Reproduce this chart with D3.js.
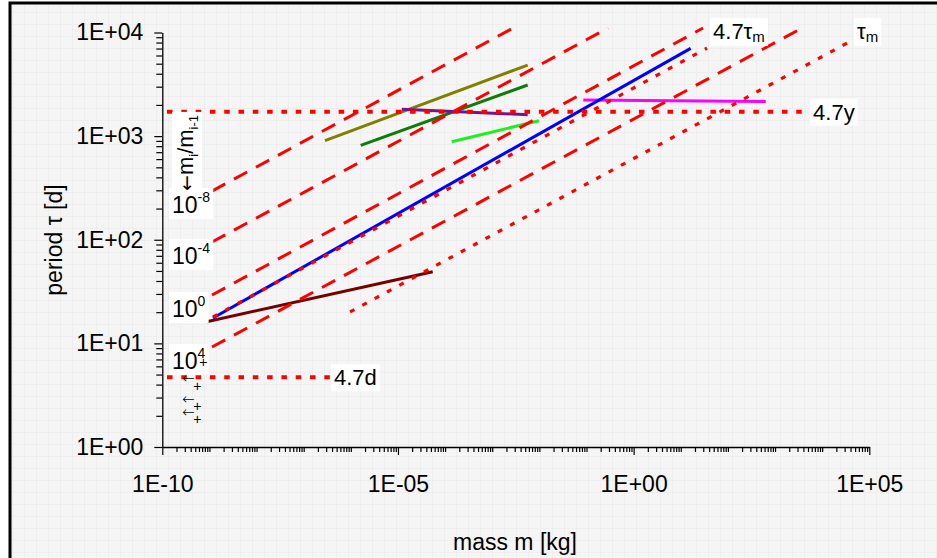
<!DOCTYPE html>
<html>
<head>
<meta charset="utf-8">
<script src="https://cdn.jsdelivr.net/npm/d3@7/dist/d3.min.js"></script>
<style>
	body {margin: 0; background: #fff;}
	svg {display: block;}
	text {font-family: "Liberation Sans", Arial, sans-serif; fill: #000;}
</style>
</head>
<body>
<svg id="chart" width="937" height="558"></svg>
<script>
//axis ticks that carry a label
const xTickValues = [1e-10, 1e-5, 1e0, 1e5];
const yTickValues = [1e0, 1e1, 1e2, 1e3, 1e4];

//long dashed lines, one per mass ratio m_i/m_{i-1}
const ratioExponents = ['-8', '-4', '0', '4'];
const ratioLines = [
	[[1.135e-9, 295], [2.76e-3, 11040]],
	[[1.135e-9, 95.1], [0.286, 11040]],
	[[1.135e-9, 29.3], [29.7, 11040]],
	[[1.135e-9, 9.23], [3740, 11040]]
];

//dotted lines: 4.7 tau_m, tau_m, 4.7 years, 4.7 days
const tau47Line = [[1.19e-9, 17.97], [36.1, 7080]];
const tauLine = [[9.62e-7, 20.1], [3.72e4, 8090]];
const yearLine = [[1.26e-10, 1717], [4340, 1717]];
const dayLine = [[1.26e-10, 4.7], [3.61e-7, 4.7]];

//measured series [mass kg, period d]
const seriesNames = ['olive', 'green', 'purple', 'lime', 'magenta', 'maroon', 'blue'];
const seriesValues = [
	[[2.83e-7, 904], [5.66e-3, 4853]],
	[[1.62e-6, 815], [5.66e-3, 3112]],
	[[1.20e-5, 1816], [5.66e-3, 1611]],
	[[1.38e-4, 883], [9.84e-3, 1409]],
	[[0.0857, 2228], [635, 2158]],
	[[8.75e-10, 16.2], [5.46e-5, 49.2]],
	[[1.19e-9, 17.6], [16.2, 7030]]
];
const seriesColors = ['#808000', '#0b7d0b', '#7d1283', '#1eef1e', '#ff00ff', '#740000', '#0000ff'];

//small glyphs near the bottom of the y axis
const arrowTaus = [4.7, 2.95, 2.19];
const plusTaus = [6.66, 3.88, 2.5, 1.85];

const svg = d3.select('#chart');

let x = d3.scaleLog().domain([1e-10, 1e5]).range([162.3, 869.3]);
let y = d3.scaleLog().domain([1, 1e4]).range([447, 32.5]);

let line = d3.line()
	.x((d) => {return x(d[0]);})
	.y((d) => {return y(d[1]);});

//background and frame
let defs = svg.append('defs');
let pat = defs.append('pattern')
	.attr('id', 'bg')
	.attr('width', 12)
	.attr('height', 12)
	.attr('patternUnits', 'userSpaceOnUse');
pat.append('rect').attr('width', 12).attr('height', 12).attr('fill', '#f5f5f5');
pat.append('path').attr('d', 'M0 0.5H12M0.5 0V12').attr('stroke', '#eeeeee').attr('stroke-width', 1);
svg.append('rect')
	.attr('x', 10).attr('y', 3)
	.attr('width', 960).attr('height', 600)
	.attr('fill', 'url(#bg)')
	.attr('stroke', '#000')
	.attr('stroke-width', 3);

//1E+04 style labels
function fmt (d) {
	let e = Math.round(Math.log10(d));
	return '1E' + (e < 0 ? '-' : '+') + String(Math.abs(e)).padStart(2, '0');
}
function isMajor (list, d) {
	return list.some((v) => Math.abs(Math.log10(v) - Math.log10(d)) < 1e-6);
}
//1..9 in every decade
function minorTicks (lo, hi) {
	let t = [];
	for (let e = lo; e < hi; e++) {
		for (let k = 1; k < 10; k++) {
			t.push(k * Math.pow(10, e));
		}
	}
	t.push(Math.pow(10, hi));
	return t;
}

let xAxis = d3.axisBottom(x)
	.tickValues(minorTicks(-10, 5))
	.tickSize(5)
	.tickSizeOuter(0)
	.tickPadding(24)
	.tickFormat((d) => isMajor(xTickValues, d) ? fmt(d) : '');
let gx = svg.append('g').attr('transform', 'translate(0,447)').call(xAxis);
gx.selectAll('.tick').filter((d) => isMajor(xTickValues, d)).select('line').attr('y2', 8);

let yAxis = d3.axisLeft(y)
	.tickValues(minorTicks(0, 4))
	.tickSize(6)
	.tickSizeOuter(0)
	.tickPadding(13)
	.tickFormat((d) => isMajor(yTickValues, d) ? fmt(d) : '');
let gy = svg.append('g').attr('transform', 'translate(162.3,0)').call(yAxis);
gy.selectAll('.tick').filter((d) => isMajor(yTickValues, d)).select('line').attr('x2', -8);

[gx, gy].forEach((g) => {
	g.attr('font-family', null).attr('font-size', null);
	g.select('.domain').attr('stroke', '#000').attr('stroke-width', 1.3);
	g.selectAll('.tick line').attr('stroke', '#000').attr('stroke-width', 1.2);
	g.selectAll('.tick text').style('font-size', '23px');
});

//axis titles
svg.append('text')
	.attr('transform', 'translate(62,240) rotate(-90)')
	.attr('text-anchor', 'middle')
	.style('font-size', '23px')
	.text('period τ [d]');
svg.append('text')
	.attr('x', 515).attr('y', 550)
	.attr('text-anchor', 'middle')
	.style('font-size', '23px')
	.text('mass m [kg]');

//measured series
svg.append('g').selectAll('path')
	.data(seriesValues)
	.join('path')
	.attr('class', (d, i) => 'series ' + seriesNames[i])
	.attr('d', line)
	.attr('fill', 'none')
	.attr('stroke', (d, i) => seriesColors[i])
	.attr('stroke-width', 3);

//red guide lines on top
let guides = svg.append('g').attr('fill', 'none').attr('stroke', '#ff0000');
guides.selectAll('path.ratio')
	.data(ratioLines)
	.join('path')
	.attr('class', 'ratio')
	.attr('d', line)
	.attr('stroke-width', 3)
	.attr('stroke-dasharray', '15,10');
guides.selectAll('path.tau')
	.data([tau47Line, tauLine])
	.join('path')
	.attr('class', 'tau')
	.attr('d', line)
	.attr('stroke-width', 3.2)
	.attr('stroke-dasharray', '5,9');
guides.selectAll('path.flat')
	.data([yearLine, dayLine])
	.join('path')
	.attr('class', 'flat')
	.attr('d', line)
	.attr('stroke-width', 4)
	.attr('stroke-dasharray', '5.5,8.8');

//text with a white box behind it
function boxed (g, build) {
	let t = g.append('text');
	build(t);
	let b = t.node().getBBox();
	g.insert('rect', () => t.node())
		.attr('x', b.x - 3).attr('y', b.y - 1)
		.attr('width', b.width + 6).attr('height', b.height + 2)
		.attr('fill', '#fff');
	return t;
}

let labels = svg.append('g');
ratioLines.forEach((l, i) => {
	boxed(labels, (t) => {
		t.attr('x', x(l[0][0]) - 40).attr('y', y(l[0][1]) + 22).style('font-size', '23px');
		t.append('tspan').text('10');
		t.append('tspan').attr('dy', -11).style('font-size', '14px').text(ratioExponents[i]);
	});
});

let rot = svg.append('g').attr('transform', 'translate(193,191) rotate(-90)');
boxed(rot, (t) => {
	t.style('font-size', '22px');
	t.append('tspan').style('font-family', 'DejaVu Sans').style('font-size', '19px').text('←');
	t.append('tspan').text('m');
	t.append('tspan').attr('dy', 5).style('font-size', '13px').text('i');
	t.append('tspan').attr('dy', -5).text('/m');
	t.append('tspan').attr('dy', 5).style('font-size', '13px').text('i-1');
});

boxed(labels, (t) => {
	t.attr('x', x(dayLine[1][0]) + 4).attr('y', y(4.7) + 8).style('font-size', '22px').text('4.7d');
});
boxed(labels, (t) => {
	t.attr('x', x(yearLine[1][0]) + 8).attr('y', y(1717) + 8).style('font-size', '22px').text('4.7y');
});
boxed(labels, (t) => {
	t.attr('x', x(tau47Line[1][0]) + 6).attr('y', y(tau47Line[1][1]) - 9).style('font-size', '22px');
	t.append('tspan').text('4.7τ');
	t.append('tspan').attr('dy', 3).style('font-size', '15px').text('m');
});
boxed(labels, (t) => {
	t.attr('x', x(tauLine[1][0]) + 8).attr('y', y(tauLine[1][1]) - 3).style('font-size', '22px');
	t.append('tspan').text('τ');
	t.append('tspan').attr('dy', 3).style('font-size', '15px').text('m');
});

//little arrows and plus signs
labels.selectAll('text.arrow')
	.data(arrowTaus)
	.join('text')
	.attr('class', 'arrow')
	.attr('x', x(1e-10) + 26)
	.attr('y', (d) => y(d))
	.attr('dy', '0.35em')
	.attr('text-anchor', 'middle')
	.style('font-family', 'DejaVu Sans')
	.style('font-size', '15px')
	.style('font-weight', 300)
	.text('←');
labels.selectAll('text.plus')
	.data(plusTaus)
	.join('text')
	.attr('class', 'plus')
	.attr('x', (d, i) => x(1e-10) + (i == 0 ? 41 : 35))
	.attr('y', (d) => y(d))
	.attr('dy', '0.35em')
	.attr('text-anchor', 'middle')
	.style('font-size', '14px')
	.text('+');
</script>
</body>
</html>
